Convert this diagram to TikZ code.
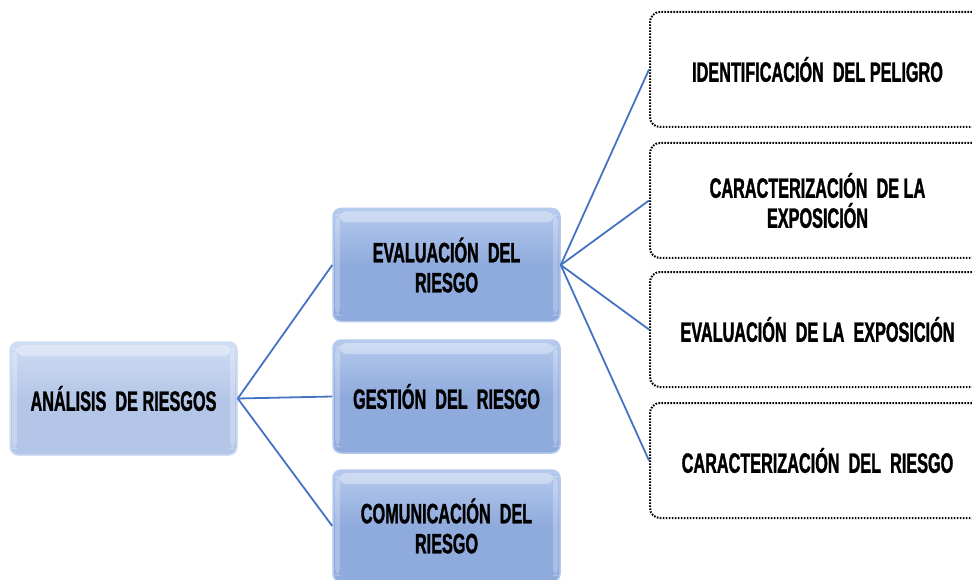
\documentclass[tikz,border=0pt]{standalone}
\usepackage{fontspec}
\newfontfamily\agency{Liberation Sans}[UprightFont={* Bold}, BoldFont={* Bold}, FakeStretch=0.58, FakeBold=1.2]
\definecolor{linkblue}{RGB}{68,114,196}
\definecolor{leftfill}{RGB}{180,198,231}
\definecolor{lefttop}{RGB}{208,221,244}
\definecolor{midfill}{RGB}{143,170,220}
\definecolor{midtop}{RGB}{182,202,238}
\tikzset{
  lbl/.style={font=\agency\fontsize{28}{30}\selectfont, align=center, text=black},
  gloss/.style={path picture={
    \fill[white, opacity=0.35] ([xshift=6pt,yshift=-3pt]path picture bounding box.north west)
      rectangle ([xshift=-6pt,yshift=-14pt]path picture bounding box.north east);
    \fill[white, opacity=0.25] ([xshift=2pt,yshift=-6pt]path picture bounding box.north west)
      rectangle ([xshift=7pt,yshift=6pt]path picture bounding box.south west);
    \fill[white, opacity=0.25] ([xshift=-2pt,yshift=-6pt]path picture bounding box.north east)
      rectangle ([xshift=-7pt,yshift=6pt]path picture bounding box.south east);
  }},
  leftbox/.style={lbl, gloss, rounded corners=8pt, draw=lefttop, line width=1.5pt,
    top color=lefttop, bottom color=leftfill, middle color=leftfill,
    minimum width=227pt, minimum height=113pt, inner sep=2pt},
  midbox/.style={lbl, gloss, rounded corners=8pt, draw=midtop, line width=1.5pt,
    top color=midtop, bottom color=midfill, middle color=midfill,
    minimum width=227pt, minimum height=113pt, inner sep=2pt},
  rightbox/.style={lbl, rounded corners=10pt, draw=black, fill=white, line width=2pt,
    dash pattern=on 1.6pt off 1.4pt, minimum width=335pt, minimum height=115pt, inner sep=2pt},
  link/.style={draw=linkblue, line width=1.8pt}
}
\begin{document}
\begin{tikzpicture}[x=1pt,y=-1pt]
\useasboundingbox (0,0) rectangle (972,580);
\clip (0,0) rectangle (972,580);
\node[leftbox] (ana) at (123.5,398.5) {ANÁLISIS~~DE RIESGOS};
\node[midbox] (eva) at (446.5,265) {EVALUACIÓN~~DEL\\RIESGO};
\node[midbox] (ges) at (446.5,396.5) {GESTIÓN~~DEL~~RIESGO};
\node[midbox, minimum height=112pt] (com) at (446.5,526) {COMUNICACIÓN~~DEL\\RIESGO};
\node[rightbox] (r1) at (817.5,69.5) {IDENTIFICACIÓN~~DEL PELIGRO};
\node[rightbox] (r2) at (817.5,200.5) {CARACTERIZACIÓN~~DE LA\\EXPOSICIÓN};
\node[rightbox] (r3) at (817.5,329.5) {EVALUACIÓN~~DE LA~~EXPOSICIÓN};
\node[rightbox] (r4) at (817.5,460.5) {CARACTERIZACIÓN~~DEL~~RIESGO};
\draw[link] (ana.east) -- (eva.west);
\draw[link] (ana.east) -- (ges.west);
\draw[link] (ana.east) -- (com.west);
\draw[link] (eva.east) -- (r1.west);
\draw[link] (eva.east) -- (r2.west);
\draw[link] (eva.east) -- (r3.west);
\draw[link] (eva.east) -- (r4.west);
\end{tikzpicture}
\end{document}
